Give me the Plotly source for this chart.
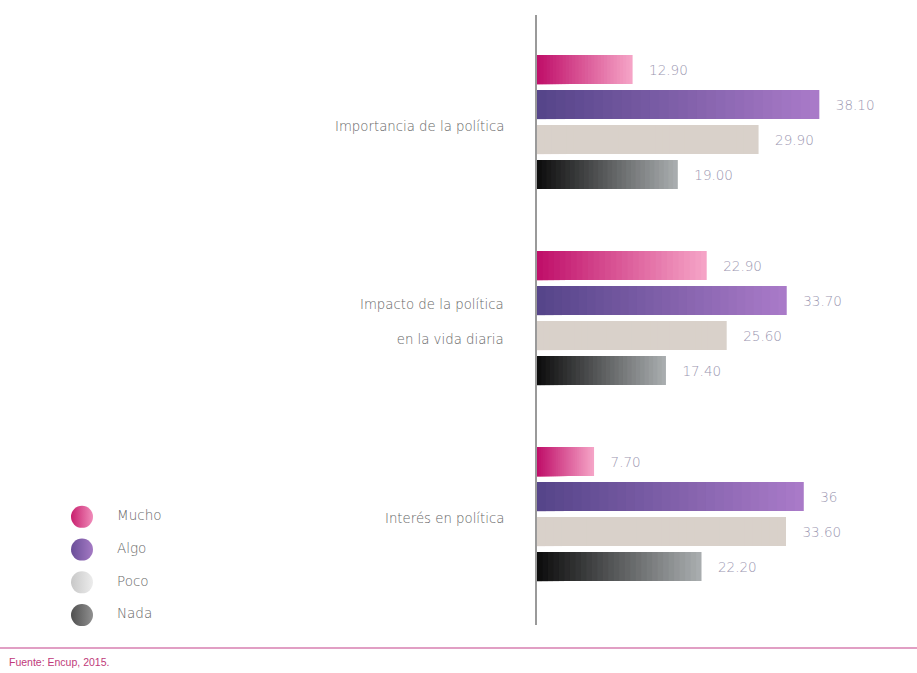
import plotly.graph_objects as go

# ---------------- data ----------------
categories = ["Importancia de la política",
              "Impacto de la política en la vida diaria",
              "Interés en política"]
category_labels = ["Importancia de la política",
                   "Impacto de la política<br><br>en la vida diaria",
                   "Interés en política"]
series_names = ["Mucho", "Algo", "Poco", "Nada"]
mucho = [12.90, 22.90, 7.70]
algo = [38.10, 33.70, 36]
poco = [29.90, 25.60, 33.60]
nada = [19.00, 17.40, 22.20]
mucho_text = ["12.90", "22.90", "7.70"]
algo_text = ["38.10", "33.70", "36"]
poco_text = ["29.90", "25.60", "33.60"]
nada_text = ["19.00", "17.40", "22.20"]
source_note = "Fuente: Encup, 2015."

series_values = [mucho, algo, poco, nada]
series_texts = [mucho_text, algo_text, poco_text, nada_text]

# ---------------- styles ----------------
dark_colors = ["#c0106a", "#56458a", "#d9d1ca", "#0e0e0e"]
light_colors = ["#f5a3c6", "#a97ac8", "#d9d1ca", "#a8acae"]
legend_dark = ["#c8206e", "#6a4e98", "#c8c8c8", "#505050"]
legend_light = ["#f08cba", "#a47ac4", "#ececec", "#909090"]
FONT = "DejaVu Sans"
N = 30  # gradient steps


def hex2rgb(h):
    h = h.lstrip("#")
    return tuple(int(h[i:i + 2], 16) for i in (0, 2, 4))


def mix(c1, c2, t):
    a, b = hex2rgb(c1), hex2rgb(c2)
    return "rgb(%d,%d,%d)" % tuple(round(a[i] + (b[i] - a[i]) * t) for i in range(3))


fig = go.Figure()

for s, name in enumerate(series_names):
    vals = series_values[s]
    for k in range(N):
        frac = (N - k) / N
        col = mix(light_colors[s], dark_colors[s], k / (N - 1))
        fig.add_trace(go.Bar(
            orientation="h",
            y=categories,
            x=[v * frac for v in vals],
            offsetgroup=name,
            marker=dict(color=col, line=dict(width=0)),
            text=["\u2002\u2002" + t for t in series_texts[s]] if k == 0 else None,
            textposition="outside" if k == 0 else "none",
            textfont=dict(family=FONT, size=13.5, color="#9a96b0", weight=300),
            constraintext="none",
            cliponaxis=False,
            showlegend=False,
            hoverinfo="skip",
            xaxis="x", yaxis="y",
        ))

# manual legend with circular, gradient markers
fig.add_trace(go.Scatter(
    x=[0] * len(series_names),
    y=series_names,
    mode="markers+text",
    text=["\u2002\u2002\u2002" + n for n in series_names],
    textposition="middle right",
    textfont=dict(family=FONT, size=13.5, color="#666666", weight=300),
    marker=dict(size=22, color=legend_dark,
                gradient=dict(type="horizontal", color=legend_light)),
    cliponaxis=False,
    showlegend=False,
    hoverinfo="skip",
    xaxis="x2", yaxis="y2",
))

annotations = []
for cat, lab in zip(categories, category_labels):
    annotations.append(dict(
        x=0, xref="x domain", y=cat, yref="y",
        text=lab, showarrow=False, xanchor="right", yanchor="middle",
        xshift=-31, yshift=-4, align="right",
        font=dict(family=FONT, size=13.3, color="#666666", weight=300),
    ))
annotations.append(dict(
    x=0.008, xref="paper", y=0.0163, yref="paper",
    text=source_note, showarrow=False, xanchor="left", yanchor="middle",
    font=dict(family="Liberation Sans Narrow, Liberation Sans", size=10.5,
              color="#c03a7a"),
))

fig.update_layout(
    width=917, height=673,
    margin=dict(l=0, r=0, t=0, b=0),
    paper_bgcolor="white", plot_bgcolor="white",
    barmode="group", bargap=0.286, bargroupgap=0.17,
    showlegend=False, hovermode=False,
    xaxis=dict(domain=[537 / 917, 1], range=[0, 51.28], visible=False,
               fixedrange=True),
    yaxis=dict(domain=[(673 - 625) / 673, (673 - 15) / 673],
               type="category", categoryarray=categories,
               range=[2.566, -0.546], showticklabels=False, ticks="",
               showgrid=False, zeroline=False, fixedrange=True,
               showline=True, linecolor="#9a9a9a", linewidth=2),
    xaxis2=dict(domain=[82 / 917, 300 / 917], range=[0, 1], visible=False,
                anchor="y2", fixedrange=True),
    yaxis2=dict(domain=[(673 - 631.5) / 673, (673 - 500.5) / 673],
                type="category", categoryarray=series_names,
                range=[3.5, -0.5], visible=False, anchor="x2",
                fixedrange=True),
    annotations=annotations,
    shapes=[dict(type="line", xref="paper", yref="paper",
                 x0=0, x1=1, y0=(673 - 648) / 673, y1=(673 - 648) / 673,
                 line=dict(color="#d77fb0", width=1.5))],
)

fig.write_html("out.html",
               config={"displayModeBar": False},
               post_script="document.body.style.margin='0px';"
                           "document.body.style.overflow='hidden';")
